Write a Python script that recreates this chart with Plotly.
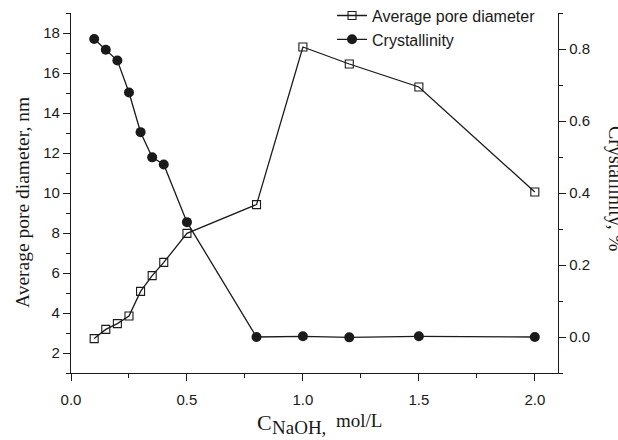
import plotly.graph_objects as go

# ---- data ----
c_naoh = [0.1, 0.15, 0.2, 0.25, 0.3, 0.35, 0.4, 0.5, 0.8, 1.0, 1.2, 1.5, 2.0]
pore_diameter = [2.72, 3.18, 3.47, 3.85, 5.08, 5.87, 6.53, 7.98, 9.42, 17.3, 16.45, 15.3, 10.05]
crystallinity = [0.828, 0.798, 0.768, 0.679, 0.569, 0.499, 0.479, 0.319, 0.0, 0.002, -0.001, 0.002, 0.0]
x_ticks = [0.0, 0.5, 1.0, 1.5, 2.0]
x_tick_labels = ["0.0", "0.5", "1.0", "1.5", "2.0"]
left_ticks = [2, 4, 6, 8, 10, 12, 14, 16, 18]
right_ticks = [0.0, 0.2, 0.4, 0.6, 0.8]
right_tick_labels = ["0.0", "0.2", "0.4", "0.6", "0.8"]

SANS = "Liberation Sans, Arial, sans-serif"
SERIF = "Liberation Serif, Times New Roman, serif"
INK = "#1a1a1a"

fig = go.Figure()
fig.add_trace(go.Scatter(
    x=c_naoh, y=pore_diameter, name="Average pore diameter",
    mode="lines+markers",
    line=dict(color=INK, width=1.3),
    marker=dict(symbol="square-open", size=8, color=INK, line=dict(width=1.1)),
))
fig.add_trace(go.Scatter(
    x=c_naoh, y=crystallinity, name="Crystallinity", yaxis="y2",
    mode="lines+markers",
    line=dict(color=INK, width=1.3),
    marker=dict(symbol="circle", size=10, color=INK),
))

axis_common = dict(
    showline=True, linecolor=INK, linewidth=1.3,
    ticks="outside", tickcolor=INK, tickwidth=1.3, ticklen=7,
    showgrid=False, zeroline=False,
    tickfont=dict(family=SANS, size=15, color=INK),
)

fig.update_layout(
    width=618, height=440,
    margin=dict(l=71, r=60, t=13, b=67, autoexpand=False),
    paper_bgcolor="white", plot_bgcolor="white",
    showlegend=True,
    legend=dict(
        x=0.536, y=1.04, xanchor="left", yanchor="top",
        bgcolor="rgba(0,0,0,0)", font=dict(family=SANS, size=16, color=INK),
        tracegroupgap=0, itemwidth=30,
    ),
    xaxis=dict(
        range=[0, 2.1], tickvals=x_ticks, ticktext=x_tick_labels,
        minor=dict(dtick=0.25, tick0=0, ticks="outside", ticklen=4, tickcolor=INK, tickwidth=1.3),
        ticklabelstandoff=6,
        **axis_common,
    ),
    yaxis=dict(
        range=[1, 19], tickvals=left_ticks,
        minor=dict(dtick=1, tick0=1, ticks="outside", ticklen=4, tickcolor=INK, tickwidth=1.3),
        **axis_common,
    ),
    yaxis2=dict(
        range=[-0.1, 0.9], overlaying="y", side="right",
        tickvals=right_ticks, ticktext=right_tick_labels,
        minor=dict(dtick=0.1, tick0=0, ticks="outside", ticklen=4, tickcolor=INK, tickwidth=1.3),
        **axis_common,
    ),
)

# axis titles as annotations (pixel-positioned)
plot_l, plot_w = 71, 618 - 71 - 60
plot_t, plot_h = 13, 440 - 13 - 67

def px_x(px):
    return (px - plot_l) / plot_w

def px_y(py):
    return 1 - (py - plot_t) / plot_h

fig.add_annotation(
    text="Average pore diameter, nm", textangle=-90,
    xref="paper", yref="paper", x=px_x(22), y=px_y(203),
    xanchor="center", yanchor="middle", showarrow=False,
    font=dict(family=SERIF, size=19.5, color=INK),
)
fig.add_annotation(
    text="Crystallinity, %", textangle=90,
    xref="paper", yref="paper", x=px_x(616), y=px_y(188),
    xanchor="center", yanchor="middle", showarrow=False,
    font=dict(family=SERIF, size=20, color=INK),
)
fig.add_annotation(
    text="C", xref="paper", yref="paper", x=px_x(255), y=px_y(422),
    xanchor="left", yanchor="middle", showarrow=False,
    font=dict(family=SERIF, size=22, color=INK),
)
fig.add_annotation(
    text="NaOH,", xref="paper", yref="paper", x=px_x(270), y=px_y(428),
    xanchor="left", yanchor="middle", showarrow=False,
    font=dict(family=SERIF, size=19, color=INK),
)
fig.add_annotation(
    text="mol/L", xref="paper", yref="paper", x=px_x(334), y=px_y(420),
    xanchor="left", yanchor="middle", showarrow=False,
    font=dict(family=SERIF, size=19, color=INK),
)

fig.write_html("out.html")
